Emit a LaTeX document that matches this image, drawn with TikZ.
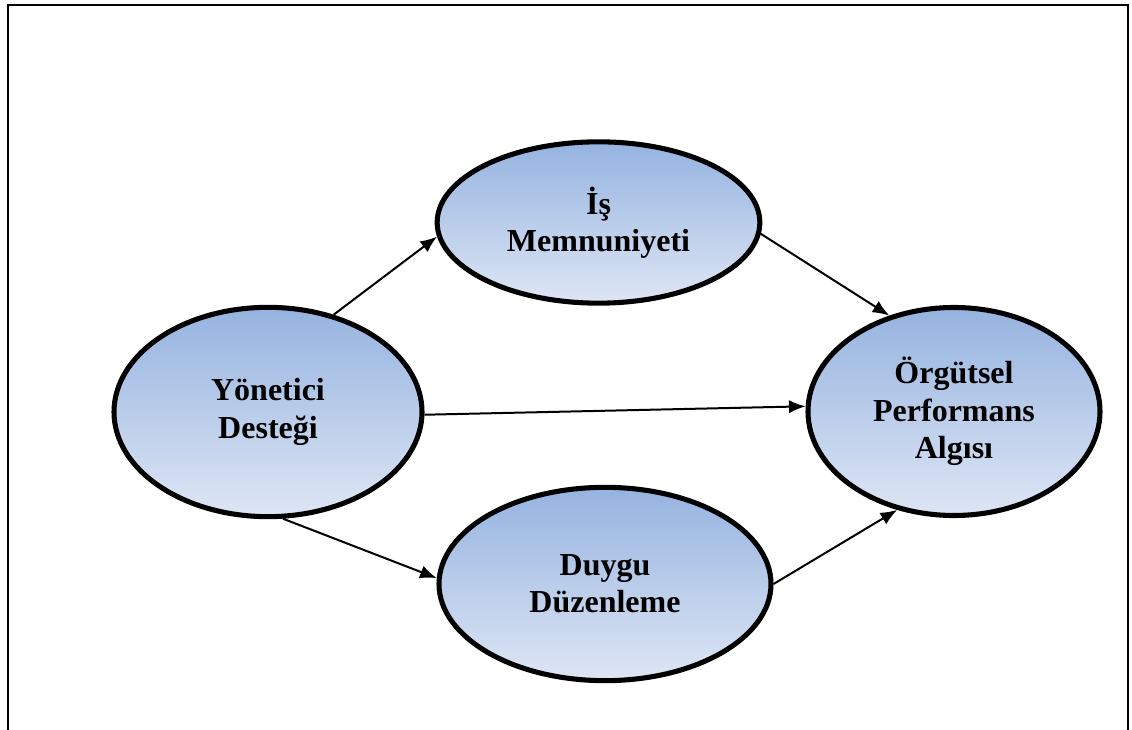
\documentclass[tikz,border=0pt]{standalone}
\usepackage{fontspec}
\setmainfont{Liberation Serif}
\usetikzlibrary{shapes.geometric,arrows.meta}
\definecolor{ovaltop}{RGB}{149,179,224}
\definecolor{ovalbot}{RGB}{222,230,244}
\tikzset{
  oval/.style={ellipse, draw=black, line width=3.8pt, inner sep=0pt,
    top color=ovaltop, bottom color=ovalbot, align=center,
    font=\fontsize{24}{28}\selectfont\bfseries},
  link/.style={line width=1.5pt, -{Latex[length=12.5pt,width=10pt]}},
  frame/.style={line width=1.6pt}
}
\begin{document}
\begin{tikzpicture}[x=0.75pt,y=-0.75pt]
\useasboundingbox (0,0) rectangle (1132,730);
% outer frame, open at the bottom edge
\draw[frame] (8,731) -- (8,5) -- (1128,5) -- (1128,731);

\node[oval, minimum width=231pt, minimum height=157pt] (yd) at (268,412) {Yönetici\\Desteği};
\node[oval, minimum width=242pt, minimum height=121pt] (im) at (598.5,222.5) {İş\\Memnuniyeti};
\node[oval, minimum width=249pt, minimum height=145pt] (dd) at (605,584) {Duygu\\Düzenleme};
\node[oval, minimum width=219pt, minimum height=156pt] (op) at (954,411.5) {Örgütsel\\Performans\\Algısı};

\draw[link] (yd.56) -- (im.185);
\draw[link] (im.356.5) -- (op.124.3);
\draw[link] (yd.-1.8) -- (op.178.2);
\draw[link] (yd.-82) -- (dd.178);
\draw[link] (dd.0) -- (op.240.2);
\end{tikzpicture}
\end{document}
